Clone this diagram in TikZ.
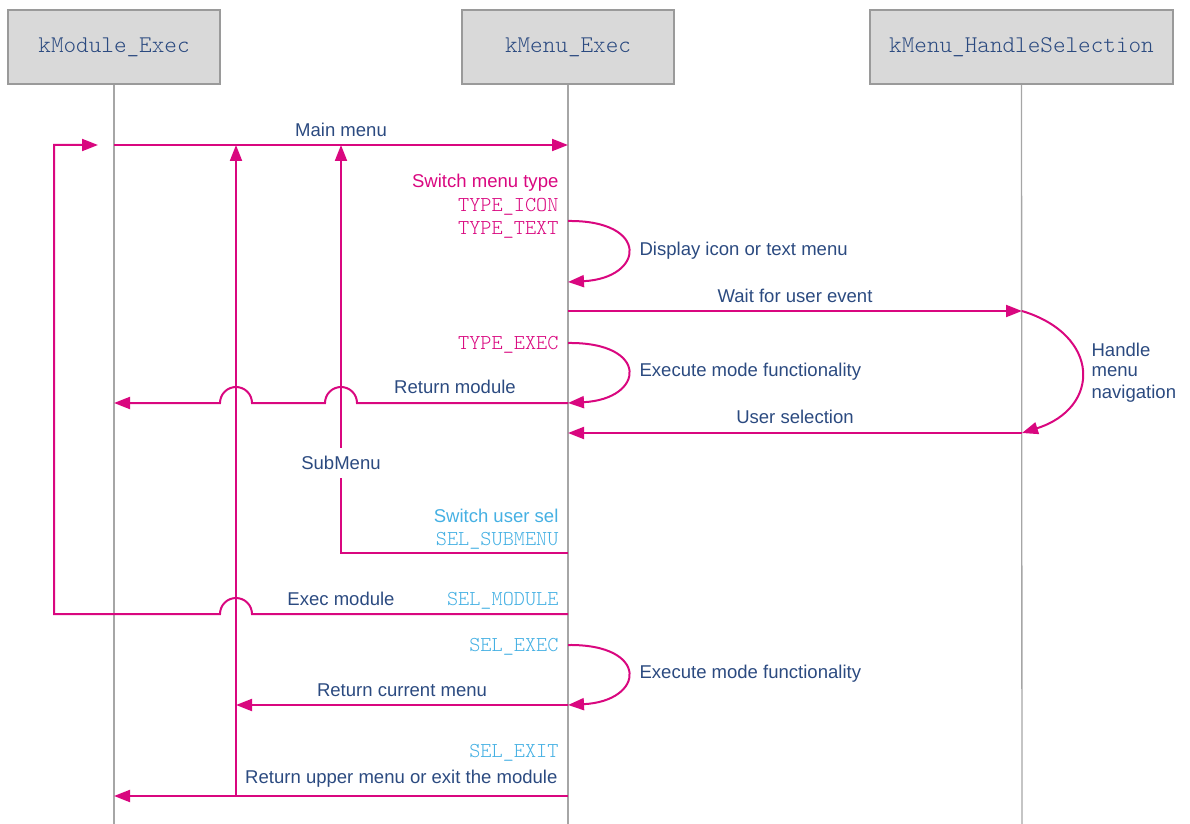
\documentclass[tikz,border=0pt]{standalone}
\usepackage{fontspec}
\setmainfont{Liberation Sans}
\setmonofont{Latin Modern Mono Light}
\usetikzlibrary{arrows.meta}
\definecolor{mag}{HTML}{D9077F}
\definecolor{navy}{HTML}{2B4A80}
\definecolor{sky}{HTML}{45B0E3}
\definecolor{boxfill}{HTML}{D9D9D9}
\definecolor{boxline}{HTML}{9A9A9A}
\definecolor{life}{HTML}{A6A6A6}
\begin{document}
\begin{tikzpicture}[x=0.75pt,y=-0.75pt,
  header/.style={draw=boxline,line width=1.2pt,fill=boxfill,minimum height=74*0.75pt,inner sep=0pt,
     font=\ttfamily\fontsize{18}{20}\selectfont,text=navy},
  lifeline/.style={draw=life,line width=1pt},
  msg/.style={draw=mag,line width=1.5pt,-{Triangle[length=12pt,width=9pt]}},
  lbl/.style={font=\fontsize{13.9}{16}\selectfont,text=navy,inner sep=1pt},
  codem/.style={font=\ttfamily\fontsize{15.9}{18}\selectfont,text=mag,inner sep=1pt},
  codes/.style={font=\ttfamily\fontsize{15.9}{18}\selectfont,text=sky,inner sep=1pt},
  lblm/.style={font=\fontsize{13.9}{16}\selectfont,text=mag,inner sep=1pt},
  lbls/.style={font=\fontsize{13.9}{16}\selectfont,text=sky,inner sep=1pt}]
\useasboundingbox (0,0) rectangle (1190,824);
% headers
\node[header,minimum width=212*0.75pt] (h1) at (114,47) {\raisebox{-1.5pt}{kModule\_Exec}};
\node[header,minimum width=212*0.75pt] (h2) at (568,47) {\raisebox{-1.5pt}{kMenu\_Exec}};
\node[header,minimum width=303*0.75pt] (h3) at (1021.5,47) {\raisebox{-1.5pt}{kMenu\_HandleSelection}};
% lifelines
\coordinate (e1) at (114,824);
\coordinate (e2) at (568,824);
\coordinate (e3) at (1022,824);
\draw[lifeline] (h1.south) -- (e1);
\draw[lifeline] (h2.south) -- (e2);
\draw[lifeline] (h3.south) -- (e3);
% coordinates
\coordinate (a1) at (114,145);
\coordinate (b1) at (568,145);
\coordinate (l1s) at (568,221);
\coordinate (l1e) at (568,282);
\coordinate (w1) at (568,311);
\coordinate (w2) at (1022,311);
\coordinate (l2s) at (568,343);
\coordinate (l2e) at (568,403);
\coordinate (rm) at (114,403);
\coordinate (us1) at (1022,433);
\coordinate (us2) at (568,433);
\coordinate (sm1) at (568,553);
\coordinate (sm2) at (341,553);
\coordinate (sm3) at (341,145);
\coordinate (em1) at (568,614);
\coordinate (em2) at (54,614);
\coordinate (em3) at (54,145);
\coordinate (em4) at (98,145);
\coordinate (l3s) at (568,645);
\coordinate (l3e) at (568,705);
\coordinate (rc) at (236,705);
\coordinate (ru1) at (568,796);
\coordinate (ru2) at (114,796);
\coordinate (ru3) at (236,796);
\coordinate (ru4) at (236,145);
% Main menu
\draw[msg] (a1) -- (b1);
\node[lbl] (tmain) at (341,130) {Main menu};
% vertical return lines
\draw[msg] (ru3) -- (ru4);
\draw[msg] (sm1) -- (sm2) -- (sm3);
\node[lbl,fill=white,inner ysep=6pt] (tsub) at (341,463) {SubMenu};
% switch menu type
\node[lblm,anchor=east] (tsw) at (560,183) {Switch menu type};
\node[codem,anchor=east] (tti) at (560,207) {TYPE\_ICON};
\node[codem,anchor=east] (ttt) at (560,229.5) {TYPE\_TEXT};
\draw[msg] (l1s) .. controls (650,220) and (645,278) .. (l1e);
\node[lbl,anchor=west] (tdisp) at (638,251) {Display icon or text menu};
% wait for user event
\draw[msg] (w1) -- (w2);
\node[lbl] (twait) at (795,296) {Wait for user event};
% TYPE_EXEC
\node[codem,anchor=east] (tte) at (560,344.5) {TYPE\_EXEC};
\draw[msg] (l2s) .. controls (650,342) and (645,399) .. (l2e);
\node[lbl,anchor=west] (tex1) at (638,372) {Execute mode functionality};
% return module with hops
\draw[msg] (l2e) -- (357,403) arc[start angle=0,end angle=-180,radius=16] -- (252,403) arc[start angle=0,end angle=-180,radius=16] -- (rm);
\node[lbl] (trm) at (455,387) {Return module};
% handle
\draw[msg] (w2) .. controls (1101,335) and (1101,408) .. (us1);
\node[lbl,anchor=west] (th1) at (1090,350) {Handle};
\node[lbl,anchor=west] (th2) at (1090,372) {menu};
\node[lbl,anchor=west] (th3) at (1090,394) {navigation};
% user selection
\draw[msg] (us1) -- (us2);
\node[lbl] (tus) at (795,417) {User selection};
% switch user sel
\node[lbls,anchor=east] (tsus) at (560,516) {Switch user sel};
\node[codes,anchor=east] (tssm) at (560,540.5) {SEL\_SUBMENU};
% exec module
\draw[msg] (em1) -- (252,614) arc[start angle=0,end angle=-180,radius=16] -- (em2) -- (em3) -- (em4);
\node[lbl] (tem) at (341,599) {Exec module};
\node[codes,anchor=east] (tsmod) at (560,601) {SEL\_MODULE};
% SEL_EXEC
\node[codes,anchor=east] (tsex) at (560,646.5) {SEL\_EXEC};
\draw[msg] (l3s) .. controls (650,644) and (645,701) .. (l3e);
\node[lbl,anchor=west] (tex2) at (638,674) {Execute mode functionality};
\draw[msg] (l3e) -- (rc);
\node[lbl] (trc) at (402,690) {Return current menu};
% SEL_EXIT
\node[codes,anchor=east] (tsexit) at (560,752.5) {SEL\_EXIT};
\draw[msg] (ru1) -- (ru2);
\node[lbl,anchor=east] (tru) at (559,779) {Return upper menu or exit the module};
\end{tikzpicture}
\end{document}
